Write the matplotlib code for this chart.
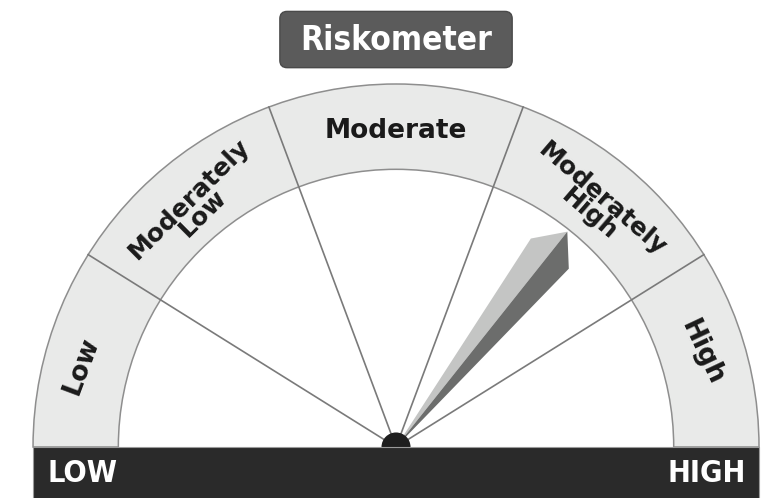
import numpy as np
import matplotlib
matplotlib.use("Agg")
import matplotlib.pyplot as plt
from matplotlib.patches import Wedge, Circle, Rectangle, FancyBboxPatch, Polygon

# data
segment_labels = ["Low", "Moderately\nLow", "Moderate", "Moderately\nHigh", "High"]
# segment boundaries in degrees, measured from the left end of the dial
boundaries = [0, 32, 69.5, 110.5, 148, 180]
needle_angle = 128.5         # degrees from the left end
end_labels = ["LOW", "HIGH"]
title = "Riskometer"

R_OUT = 1.0
R_IN = 0.765
BAND = "#e9eae9"
EDGE = "#8e8e8e"
BAR = "#2a2a2a"

# small per-label layout tweaks (label text follows the arc in the original)
lab_radius = [0.895, 0.862, 0.87, 0.862, 0.882]
lab_rot_tweak = [-6, 5, 0, -1, 8]
lab_ang_tweak = [1.5, 0.5, 0, -0.5, 1.2]
lab_size = [19, 18, 19, 18, 19]

fig = plt.figure(figsize=(7.65, 4.98), dpi=100)
ax = fig.add_axes([0, 0, 1, 1])
ax.set_xlim(-1.091, 1.0165)
ax.set_ylim(-0.1405, 1.2314)
ax.set_aspect("equal")
ax.axis("off")

# band
ax.add_patch(Wedge((0, 0), R_OUT, 0, 180, width=R_OUT - R_IN,
                   facecolor=BAND, edgecolor=EDGE, lw=1.1, zorder=1))

# divider lines
for b in boundaries[1:-1]:
    a = np.radians(180 - b)
    ax.plot([0, R_OUT * np.cos(a)], [0, R_OUT * np.sin(a)],
            color="#7a7a7a", lw=1.2, zorder=2)

# segment labels
for i, lab in enumerate(segment_labels):
    ang = 180 - (boundaries[i] + boundaries[i + 1]) / 2 + lab_ang_tweak[i]
    rot = ang - 90 + lab_rot_tweak[i]
    a = np.radians(ang)
    r = lab_radius[i]
    ax.text(r * np.cos(a), r * np.sin(a), lab, rotation=rot,
            rotation_mode="anchor", ha="center", va="center",
            fontsize=lab_size[i], fontweight="bold", color="#1a1a1a",
            linespacing=0.8, zorder=3)

# needle (two-tone wedge)
ang = np.radians(180 - needle_angle)
half = np.radians(5.6)
tip = 0.758
side = 0.684
p_tip = (tip * np.cos(ang), tip * np.sin(ang))
p_l = (side * np.cos(ang + half), side * np.sin(ang + half))
p_r = (side * np.cos(ang - half), side * np.sin(ang - half))
ax.add_patch(Polygon([(0, 0), p_l, p_tip], closed=True,
                     facecolor="#c4c5c4", edgecolor="none", zorder=4))
ax.add_patch(Polygon([(0, 0), p_tip, p_r], closed=True,
                     facecolor="#6c6d6c", edgecolor="none", zorder=4))

# pivot and base bar
ax.add_patch(Circle((0, 0), 0.04, facecolor="#1e1e1e", zorder=5))
ax.add_patch(Rectangle((-R_OUT, -0.2), 2 * R_OUT, 0.2,
                       facecolor=BAR, edgecolor="#9a9a9a", lw=0.8, zorder=6))
ax.text(-0.96, -0.072, end_labels[0], ha="left", va="center", color="white",
        fontsize=22, fontweight="bold", fontstretch="condensed", zorder=7)
ax.text(0.965, -0.072, end_labels[1], ha="right", va="center", color="white",
        fontsize=22, fontweight="bold", fontstretch="condensed", zorder=7)

# title box
ax.add_patch(FancyBboxPatch((-0.31, 1.055), 0.62, 0.135,
                            boxstyle="round,pad=0.01,rounding_size=0.02",
                            facecolor="#5b5b5b", edgecolor="#4a4a4a", lw=1, zorder=6))
ax.text(0, 1.12, title, ha="center", va="center", color="white",
        fontsize=24, fontweight="bold", fontstretch="condensed", zorder=7)

fig.savefig("out.png", dpi=100)
